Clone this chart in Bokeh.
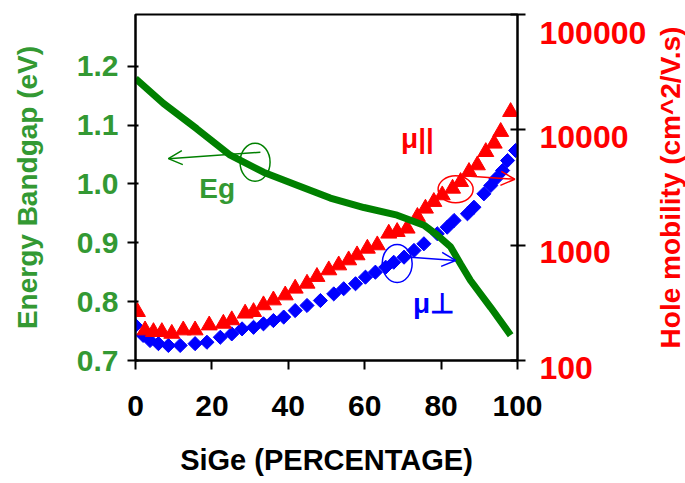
import math
from bokeh.plotting import figure
from bokeh.layouts import row
from bokeh.models import (Range1d, LogScale, LogAxis, FixedTicker, NumeralTickFormatter,
                          Label, Arrow, OpenHead)
from bokeh.embed import file_html
from bokeh.resources import INLINE

# ---------------- data ----------------
# Energy bandgap (eV) vs Ge percentage
pct_eg = [0, 7.3, 16.0, 24.8, 33.5, 42.3, 51.0, 59.8, 68.5, 75.5, 79.0, 82.5, 85.1, 87.7, 93.0, 98.2]
eg = [1.179, 1.137, 1.094, 1.049, 1.020, 0.998, 0.976, 0.960, 0.947, 0.930, 0.913, 0.893,
      0.864, 0.836, 0.790, 0.743]

# in-plane hole mobility (triangles)
pct_par = [0.5, 2.5, 4.7, 6.9, 9.5, 12.5, 15.6, 19.3, 23.0, 25.2, 28.7, 30.9, 33.5, 36.1, 39.2,
           41.8, 44.9, 47.5, 50.6, 53.2, 55.8, 58.0, 60.7, 63.3, 66.3, 68.5, 71.1, 73.8, 75.9,
           78.1, 80.3, 83.0, 85.1, 87.3, 89.5, 91.7, 93.9, 95.6, 98.2]
mu_par = [264, 183, 177, 177, 171, 183, 183, 202, 209, 224, 256, 264, 302, 333, 368, 421, 465,
          532, 607, 670, 741, 819, 935, 1000, 1263, 1305, 1396, 1763, 2080, 2377, 2713, 3098,
          3541, 4325, 4937, 6438, 7614, 9620, 14320]

# perpendicular hole mobility (diamonds)
pct_perp = [0, 2.0, 3.8, 6.0, 8.6, 11.7, 15.6, 18.7, 22.2, 25.2, 27.9, 30.9, 33.5, 36.1, 38.8,
            41.8, 44.9, 48.4, 51.9, 54.5, 57.6, 60.2, 62.8, 65.5, 67.6, 70.3, 72.9, 75.5, 79.0,
            81.6, 83.4, 86.9, 88.6, 91.2, 93.0, 94.3, 96.1, 97.4, 99.5]
mu_perp = [201, 165, 149, 140, 135, 135, 140, 144, 159, 170, 188, 194, 208, 222, 238, 271, 300,
           331, 378, 419, 463, 528, 583, 644, 711, 787, 900, 1028, 1256, 1432, 1637, 1871, 2133,
           2787, 3289, 3758, 4437, 5420, 6620]

x_ticks = [0, 20, 40, 60, 80, 100]
eg_ticks = [0.7, 0.8, 0.9, 1.0, 1.1, 1.2]
mob_ticks = [100, 1000, 10000, 100000]

FONT = "Liberation Sans"
GREEN_TXT = "#339933"
GREEN = "#008000"
RED = "#ff0000"
BLUE = "#0000ff"

p = figure(width=650, height=483, output_backend="svg", toolbar_location=None,
           x_range=Range1d(0, 100), y_range=Range1d(0.7, 1.288),
           min_border_left=135, min_border_right=133, min_border_top=14, min_border_bottom=123)
p.extra_y_ranges = {"mob": Range1d(100, 100000)}
p.extra_y_scales = {"mob": LogScale()}
p.grid.visible = False
p.outline_line_color = "black"
p.outline_line_width = 2
p.background_fill_color = "white"
p.border_fill_color = "white"


def style_axis(ax, color, label_size, tick_in, tick_out):
    ax.axis_line_width = 2
    ax.axis_line_color = "black"
    ax.major_tick_line_width = 2
    ax.major_tick_line_color = "black"
    ax.major_tick_in = tick_in
    ax.major_tick_out = tick_out
    ax.minor_tick_line_color = None
    ax.major_label_text_font = FONT
    ax.major_label_text_font_style = "bold"
    ax.major_label_text_font_size = label_size
    ax.major_label_text_color = color
    ax.axis_label_text_font = FONT
    ax.axis_label_text_font_style = "bold"
    ax.axis_label_text_font_size = "28px"
    ax.axis_label_text_color = color


xa = p.xaxis[0]
xa.ticker = FixedTicker(ticks=x_ticks)
xa.axis_label = "SiGe (PERCENTAGE)"
style_axis(xa, "black", "30px", 0, 9)
xa.axis_label_text_font_size = "29px"
xa.major_label_standoff = 26
xa.axis_label_standoff = 25

ya = p.yaxis[0]
ya.ticker = FixedTicker(ticks=eg_ticks)
ya.formatter = NumeralTickFormatter(format="0.0")
ya.axis_label = "Energy Bandgap (eV)"
style_axis(ya, GREEN_TXT, "30px", 3, 8)
ya.major_label_standoff = 9
ya.axis_label_standoff = 31

ra = LogAxis(y_range_name="mob", ticker=FixedTicker(ticks=mob_ticks),
             formatter=NumeralTickFormatter(format="0"))
style_axis(ra, RED, "32px", 7, 8)
ra.major_label_standoff = 14
# labels in the reference sit slightly below their ticks
ra.major_label_overrides = {t: "\n" + str(t) for t in mob_ticks}
ra.major_label_text_line_height = 0.4
p.add_layout(ra, "right")

# data glyphs
p.scatter(pct_perp, mu_perp, marker="square", angle=math.pi / 4, size=10, color=BLUE,
          y_range_name="mob")
p.scatter(pct_par, mu_par, marker="triangle", size=16, color=RED, y_range_name="mob")
p.line(pct_eg, eg, line_width=7, color=GREEN)

# hand-drawn style annotations (loops + arrows), placed in Eg-axis coordinates
loops = [
    (31.3, 1.037, 30, 38, GREEN),
    (83.8, 0.991, 35, 27, RED),
    (68.5, 0.865, 30, 38, BLUE),
]
for lx, ly, lw, lh, lc in loops:
    p.ellipse(x=[lx], y=[ly], width=lw, height=lh, width_units="screen", height_units="screen",
              fill_alpha=0, line_color=lc, line_width=1.5)

arrows = [
    (32.7, 1.054, 8.6, 1.043, GREEN),
    (87.7, 1.013, 99.3, 1.008, RED),
    (71.1, 0.876, 83.8, 0.870, BLUE),
]
for xs, ys, xe, ye, ac in arrows:
    p.add_layout(Arrow(end=OpenHead(size=14, line_color=ac, line_width=1.5),
                       x_start=xs, y_start=ys, x_end=xe, y_end=ye,
                       line_color=ac, line_width=1.5))

texts = [
    ("Eg", 21.4, 0.9925, GREEN_TXT),
    ("μ||", 73.8, 1.078, RED),
    ("μ⊥", 78.0, 0.797, BLUE),
]
for t, tx, ty, tc in texts:
    p.add_layout(Label(x=tx, y=ty, text=t, text_align="center", text_baseline="middle",
                       text_font=FONT, text_font_style="bold", text_font_size="28px",
                       text_color=tc))

# narrow side panel carrying the right-axis title (reads bottom to top).
# The row aligns its frame with the main plot's frame (14..360 px from the top),
# so its y range is expressed in pixels from the top of the picture.
pt = figure(width=35, height=483, output_backend="svg", toolbar_location=None,
            x_range=Range1d(0, 35), y_range=Range1d(360, 14), min_border=0,
            min_border_left=0, min_border_right=0, min_border_top=0, min_border_bottom=0)
pt.axis.visible = False
pt.grid.visible = False
pt.outline_line_color = None
pt.background_fill_color = "white"
pt.border_fill_color = "white"
pt.add_layout(Label(x=20, y=187, text="Hole mobility (cm^2/V.s)", angle=math.pi / 2,
                    text_align="center", text_baseline="middle", text_font=FONT,
                    text_font_style="bold", text_font_size="28px", text_color=RED))

layout = row(p, pt, spacing=0)
open("out.html", "w").write(file_html(layout, INLINE))
